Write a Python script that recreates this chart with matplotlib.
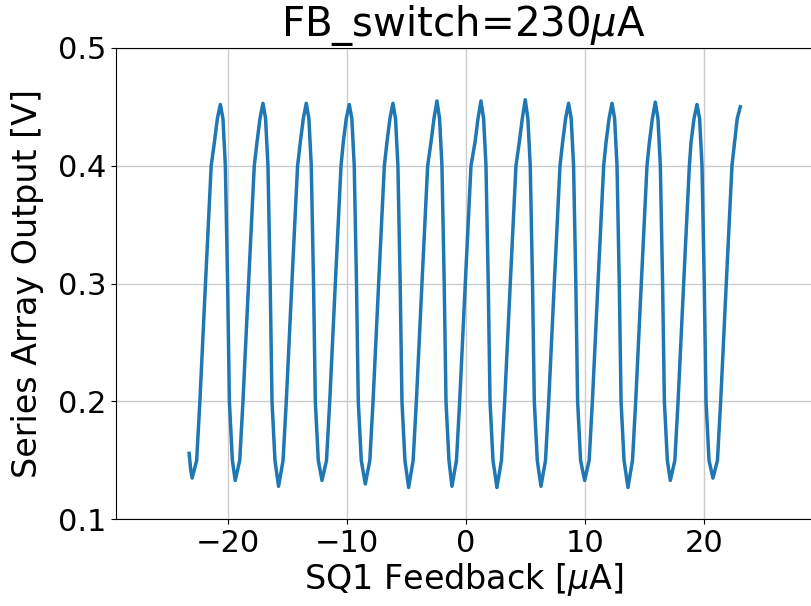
import matplotlib
matplotlib.use("Agg")
import matplotlib.pyplot as plt

# SQ1 feedback current [uA] (trough -> peak -> trough ...)
feedback_ua = [
  -23.25, -23.12,
  -23.00, -22.62, -22.35, -21.88, -21.40, -21.13, -20.88, -20.63,
  -20.41, -20.21, -20.02, -19.87, -19.62,
  -19.38, -19.00, -18.73, -18.26, -17.78, -17.55, -17.30, -17.05,
  -16.83, -16.63, -16.44, -16.29, -16.04,
  -15.74, -15.36, -15.09, -14.62, -14.14, -13.91, -13.66, -13.41,
  -13.19, -12.99, -12.80, -12.65, -12.40,
  -12.09, -11.71, -11.44, -10.97, -10.49, -10.30, -10.05, -9.80,
  -9.58, -9.38, -9.19, -9.04, -8.79,
  -8.45, -8.07, -7.80, -7.33, -6.85, -6.63, -6.38, -6.13,
  -5.91, -5.71, -5.52, -5.37, -5.12,
  -4.81, -4.43, -4.16, -3.69, -3.21, -2.93, -2.68, -2.43,
  -2.21, -2.01, -1.82, -1.67, -1.42,
  -1.17, -0.79, -0.52, -0.05, 0.43, 0.77, 1.02, 1.27,
  1.49, 1.69, 1.88, 2.03, 2.28,
  2.61, 2.99, 3.26, 3.73, 4.21, 4.49, 4.74, 4.99,
  5.21, 5.41, 5.60, 5.75, 6.00,
  6.31, 6.69, 6.96, 7.43, 7.91, 8.13, 8.38, 8.63,
  8.85, 9.05, 9.24, 9.39, 9.64,
  9.98, 10.36, 10.63, 11.10, 11.58, 11.78, 12.03, 12.28,
  12.50, 12.70, 12.89, 13.04, 13.29,
  13.62, 14.00, 14.27, 14.74, 15.22, 15.42, 15.67, 15.92,
  16.14, 16.34, 16.53, 16.68, 16.93,
  17.18, 17.56, 17.83, 18.30, 18.78, 18.92, 19.17, 19.42,
  19.64, 19.84, 20.03, 20.18, 20.43,
  20.76, 21.14, 21.41, 21.88, 22.36, 22.58, 22.80, 23.06,
]

# series array output [V]
output_v = [
  0.156, 0.142,
  0.135, 0.150, 0.200, 0.300, 0.400, 0.420, 0.440, 0.452,
  0.440, 0.400, 0.300, 0.200, 0.150,
  0.133, 0.150, 0.200, 0.300, 0.400, 0.420, 0.440, 0.453,
  0.440, 0.400, 0.300, 0.200, 0.150,
  0.128, 0.150, 0.200, 0.300, 0.400, 0.420, 0.440, 0.453,
  0.440, 0.400, 0.300, 0.200, 0.150,
  0.133, 0.150, 0.200, 0.300, 0.400, 0.420, 0.440, 0.452,
  0.440, 0.400, 0.300, 0.200, 0.150,
  0.130, 0.150, 0.200, 0.300, 0.400, 0.420, 0.440, 0.453,
  0.440, 0.400, 0.300, 0.200, 0.150,
  0.127, 0.150, 0.200, 0.300, 0.400, 0.420, 0.440, 0.455,
  0.440, 0.400, 0.300, 0.200, 0.150,
  0.128, 0.150, 0.200, 0.300, 0.400, 0.420, 0.440, 0.455,
  0.440, 0.400, 0.300, 0.200, 0.150,
  0.127, 0.150, 0.200, 0.300, 0.400, 0.420, 0.440, 0.456,
  0.440, 0.400, 0.300, 0.200, 0.150,
  0.128, 0.150, 0.200, 0.300, 0.400, 0.420, 0.440, 0.453,
  0.440, 0.400, 0.300, 0.200, 0.150,
  0.133, 0.150, 0.200, 0.300, 0.400, 0.420, 0.440, 0.453,
  0.440, 0.400, 0.300, 0.200, 0.150,
  0.127, 0.150, 0.200, 0.300, 0.400, 0.420, 0.440, 0.454,
  0.440, 0.400, 0.300, 0.200, 0.150,
  0.133, 0.150, 0.200, 0.300, 0.400, 0.420, 0.440, 0.452,
  0.440, 0.400, 0.300, 0.200, 0.150,
  0.135, 0.150, 0.200, 0.300, 0.400, 0.420, 0.440, 0.450,
]

x_ticks = [-20, -10, 0, 10, 20]
y_ticks = [0.1, 0.2, 0.3, 0.4, 0.5]


def main():
  fig = plt.figure(figsize=(8.11, 6.06), dpi=100)
  ax = fig.add_axes([0.143, 0.143, 0.857, 0.778])

  ax.plot(feedback_ua, output_v, color="#1f77b4", linewidth=2.5)

  ax.set_xlim(-29.4, 29.0)
  ax.set_ylim(0.1, 0.5)
  ax.set_xticks(x_ticks)
  ax.set_yticks(y_ticks)
  ax.tick_params(labelsize=22)
  ax.grid(True, color="#cccccc", linewidth=1.0)
  ax.set_axisbelow(True)
  ax.spines["right"].set_visible(False)

  ax.set_xlabel(r"SQ1 Feedback [$\mu$A]", fontsize=24, labelpad=2)
  ax.set_ylabel("Series Array Output [V]", fontsize=24, labelpad=10)
  ax.set_title(r"FB_switch=230$\mu$A", fontsize=29, pad=6)

  fig.savefig("out.png", dpi=100)
  plt.close(fig)


if __name__ == "__main__":
  main()
